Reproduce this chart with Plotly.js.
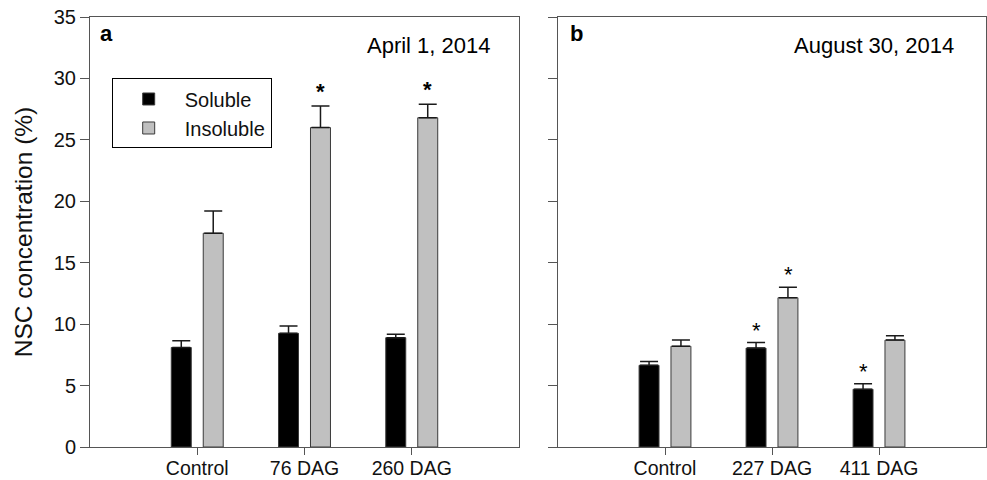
<!DOCTYPE html>
<html>
<head>
<meta charset="utf-8">
<script src="https://cdn.plot.ly/plotly-3.0.1.min.js"></script>
<style>html,body{margin:0;padding:0;background:#fff;}#chart{width:987px;height:480px;}</style>
</head>
<body>
<div id="chart"></div>
<script>
// ---- data ----
var categoriesA = ['Control', '76 DAG', '260 DAG'];
var categoriesB = ['Control', '227 DAG', '411 DAG'];

var solubleA = [8.1, 9.25, 8.9];
var solubleAErr = [0.55, 0.6, 0.28];
var insolubleA = [17.4, 26.0, 26.8];
var insolubleAErr = [1.8, 1.75, 1.1];

var solubleB = [6.65, 8.05, 4.7];
var solubleBErr = [0.3, 0.45, 0.45];
var insolubleB = [8.2, 12.15, 8.7];
var insolubleBErr = [0.5, 0.85, 0.35];

var sigSolubleA = [false, false, false];
var sigInsolubleA = [false, true, true];
var sigSolubleB = [false, true, true];
var sigInsolubleB = [false, true, false];

var yTicks = [0, 5, 10, 15, 20, 25, 30, 35];

// ---- styles ----
var FONT = 'Liberation Sans, Arial, Helvetica, sans-serif';
var BLACK = '#000000';
var GRAY = '#c0c0c0';
var EDGE = '#3a3a3a';
var AXIS = '#555555';

function zeros(n) { var a = []; for (var i = 0; i < n; i++) a.push(0); return a; }

function barTrace(x, y, err, name, color, xa, ya, showlegend) {
  return {
    type: 'bar', x: x, y: y, name: name, xaxis: xa, yaxis: ya,
    showlegend: showlegend, legendgroup: name,
    marker: { color: color, line: { color: EDGE, width: 1 } },
    error_y: { type: 'data', symmetric: false, array: err, arrayminus: zeros(err.length),
               color: '#1a1a1a', thickness: 1.5, width: 9 },
    hoverinfo: 'x+y'
  };
}

var data = [
  barTrace(categoriesA, solubleA, solubleAErr, 'Soluble', BLACK, 'x', 'y', true),
  barTrace(categoriesA, insolubleA, insolubleAErr, 'Insoluble', GRAY, 'x', 'y', true),
  barTrace(categoriesB, solubleB, solubleBErr, 'Soluble', BLACK, 'x2', 'y2', false),
  barTrace(categoriesB, insolubleB, insolubleBErr, 'Insoluble', GRAY, 'x2', 'y2', false)
];

// significance asterisks
var annotations = [];
function addStars(cats, vals, errs, sig, xref, yref, dx, dy, bold) {
  for (var i = 0; i < cats.length; i++) {
    if (!sig[i]) continue;
    annotations.push({
      x: i, y: vals[i] + errs[i], xref: xref, yref: yref,
      xshift: dx, yshift: dy, yanchor: 'bottom', xanchor: 'center',
      text: bold ? '<b>*</b>' : '*', showarrow: false,
      font: { family: FONT, size: 22, color: '#000' }
    });
  }
}
addStars(categoriesA, solubleA, solubleAErr, sigSolubleA, 'x', 'y', -16, 0, true);
addStars(categoriesA, insolubleA, insolubleAErr, sigInsolubleA, 'x', 'y', 16, 0, true);
addStars(categoriesB, solubleB, solubleBErr, sigSolubleB, 'x2', 'y2', -16, -2, false);
addStars(categoriesB, insolubleB, insolubleBErr, sigInsolubleB, 'x2', 'y2', 16, -2, false);

// panel labels and dates
annotations.push({ xref: 'x domain', yref: 'y domain', x: 0.018, y: 0.962, xanchor: 'left', yanchor: 'middle',
  text: '<b>a</b>', showarrow: false, font: { family: FONT, size: 22, color: '#000' } });
annotations.push({ xref: 'x domain', yref: 'y domain', x: 0.94, y: 0.933, xanchor: 'right', yanchor: 'middle',
  text: 'April 1, 2014', showarrow: false, font: { family: FONT, size: 22, color: '#000' } });
annotations.push({ xref: 'x2 domain', yref: 'y2 domain', x: 0.023, y: 0.962, xanchor: 'left', yanchor: 'middle',
  text: '<b>b</b>', showarrow: false, font: { family: FONT, size: 22, color: '#000' } });
annotations.push({ xref: 'x2 domain', yref: 'y2 domain', x: 0.93, y: 0.933, xanchor: 'right', yanchor: 'middle',
  text: 'August 30, 2014', showarrow: false, font: { family: FONT, size: 22, color: '#000' } });

function xAxis(domain, anchor) {
  return {
    domain: domain, anchor: anchor, type: 'category', range: [-1, 3],
    showline: true, linecolor: AXIS, linewidth: 1, mirror: true,
    ticks: 'outside', ticklen: 7, tickwidth: 1, tickcolor: AXIS,
    ticklabelstandoff: -3,
    showgrid: false, zeroline: false, fixedrange: true,
    tickfont: { family: FONT, size: 19.5, color: '#111' }
  };
}
function yAxis(anchor, showLabels) {
  return {
    anchor: anchor, domain: [0, 1], range: [0, 35], tickvals: yTicks,
    showticklabels: showLabels,
    showline: true, linecolor: AXIS, linewidth: 1, mirror: true,
    ticks: 'outside', ticklen: 9, tickwidth: 1, tickcolor: AXIS,
    showgrid: false, zeroline: false, fixedrange: true,
    tickfont: { family: FONT, size: 20, color: '#111' }
  };
}

var yA = yAxis('x', true);
yA.title = { text: 'NSC concentration (%)', font: { family: FONT, size: 24.5, color: '#111' }, standoff: 14 };

var layout = {
  width: 987, height: 480,
  margin: { l: 0, r: 0, t: 17, b: 33 },
  paper_bgcolor: '#fff', plot_bgcolor: '#fff',
  font: { family: FONT, color: '#111' },
  barmode: 'group', bargap: 0.404, bargroupgap: 0.375,
  xaxis: xAxis([90 / 987, 519 / 987], 'y'),
  yaxis: yA,
  xaxis2: xAxis([558 / 987, 986 / 987], 'y2'),
  yaxis2: yAxis('x2', false),
  showlegend: true,
  legend: {
    x: 111.7 / 987, y: 0.857, xanchor: 'left', yanchor: 'top',
    bordercolor: '#000', borderwidth: 1, bgcolor: '#fff',
    font: { family: FONT, size: 20, color: '#111' },
    itemwidth: 62, tracegroupgap: 0
  },
  annotations: annotations
};

Plotly.newPlot('chart', data, layout, { displayModeBar: false, staticPlot: true });
</script>
</body>
</html>
